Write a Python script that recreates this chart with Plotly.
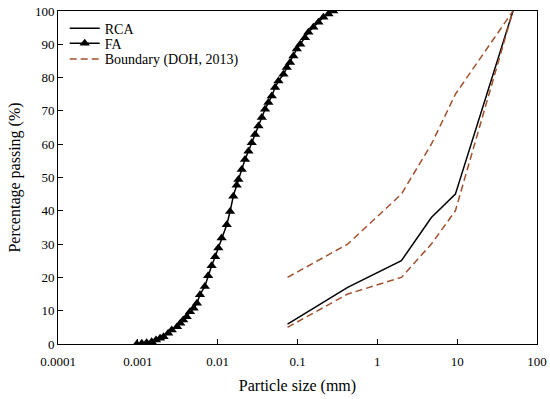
import plotly.graph_objects as go

# Sieve sizes (mm) and percentage passing
rca_size = [0.075, 0.425, 2.0, 4.75, 9.5, 50]
rca_pass = [6, 17, 25, 38, 45, 100]

upper_size = [0.075, 0.425, 2.0, 4.75, 9.5, 50]
upper_pass = [20, 30, 45, 60, 75, 100]

lower_size = [0.075, 0.425, 2.0, 4.75, 9.5, 50]
lower_pass = [5, 15, 20, 30, 40, 100]

fa_size = [0.00097, 0.00112, 0.00129, 0.00149, 0.00169, 0.0019, 0.0021, 0.0024, 0.00266,
           0.0031, 0.0034, 0.0037, 0.0041, 0.0045, 0.005, 0.0055, 0.006, 0.0069, 0.0076,
           0.0084, 0.0093, 0.0102, 0.0112, 0.013, 0.0143, 0.0157, 0.0173, 0.0182, 0.020,
           0.022, 0.0243, 0.0267, 0.0294, 0.0324, 0.0357, 0.0392, 0.0432, 0.0476, 0.0524,
           0.0577, 0.0666, 0.0734, 0.0807, 0.0889, 0.098, 0.108, 0.124, 0.137, 0.158,
           0.183, 0.211, 0.244, 0.28]
fa_pass = [0, 0.2, 0.4, 0.7, 1.2, 1.7, 2.2, 3.2, 4.2, 5.2, 6.2, 7.2, 8.2, 9.7, 10.7, 12.2,
           14.8, 17.3, 20.5, 23.5, 26.2, 28.8, 31.8, 35.8, 39.8, 44.4, 47.7, 49.4, 52.4,
           55.4, 57.9, 60.4, 62.9, 65.5, 68, 70.5, 72.5, 74.5, 77, 79, 81, 83, 84.5, 86.5,
           88.6, 90, 92, 93.6, 95.1, 96.6, 98.1, 99.1, 100]

x_tickvals = [0.0001, 0.001, 0.01, 0.1, 1, 10, 100]
x_ticktext = ["0.0001", "0.001", "0.01", "0.1", "1", "10", "100"]
y_tickvals = list(range(0, 101, 10))

font_family = "Liberation Serif, Times New Roman, serif"
dash_color = "#a0522d"
dash_style = "7px,4px"

fig = go.Figure()
fig.add_trace(go.Scatter(x=rca_size, y=rca_pass, mode="lines", name="RCA", legend="legend",
                         line=dict(color="black", width=1.5)))
fig.add_trace(go.Scatter(x=fa_size, y=fa_pass, mode="lines+markers", name="FA", legend="legend2",
                         line=dict(color="black", width=1.5),
                         marker=dict(symbol="triangle-up", size=9, color="black")))
fig.add_trace(go.Scatter(x=upper_size, y=upper_pass, mode="lines", name="Boundary (DOH, 2013)",
                         legend="legend3",
                         line=dict(color=dash_color, width=1.5, dash=dash_style)))
fig.add_trace(go.Scatter(x=lower_size, y=lower_pass, mode="lines", showlegend=False,
                         line=dict(color=dash_color, width=1.5, dash=dash_style)))

leg_common = dict(x=0.014, xanchor="left", yanchor="middle", font=dict(size=14),
                  bgcolor="rgba(0,0,0,0)", itemwidth=30)

fig.update_layout(
    width=550, height=399,
    margin=dict(l=58, r=13, t=11, b=55),
    plot_bgcolor="white", paper_bgcolor="white",
    font=dict(family=font_family, size=13, color="black"),
    legend=dict(y=0.947, **leg_common),
    legend2=dict(y=0.902, **leg_common),
    legend3=dict(y=0.855, **leg_common),
    showlegend=True,
)
fig.update_xaxes(type="log", range=[-4, 2], tickvals=x_tickvals, ticktext=x_ticktext,
                 automargin=False, ticklabelstandoff=5,
                 showline=True, linecolor="black", linewidth=1, mirror=True,
                 ticks="inside", ticklen=5, tickcolor="black", showgrid=False, zeroline=False,
                 title=dict(text="Particle size (mm)", font=dict(size=16), standoff=12))
fig.update_yaxes(range=[0, 100], tickvals=y_tickvals, automargin=False,
                 showline=True, linecolor="black", linewidth=1, mirror=True,
                 ticks="inside", ticklen=5, tickcolor="black", showgrid=False, zeroline=False,
                 title=dict(text="Percentage passing (%)", font=dict(size=16), standoff=10))

fig.write_html("out.html", config={"displayModeBar": False},
               post_script="document.body.style.margin='0';document.body.style.overflow='hidden';")
